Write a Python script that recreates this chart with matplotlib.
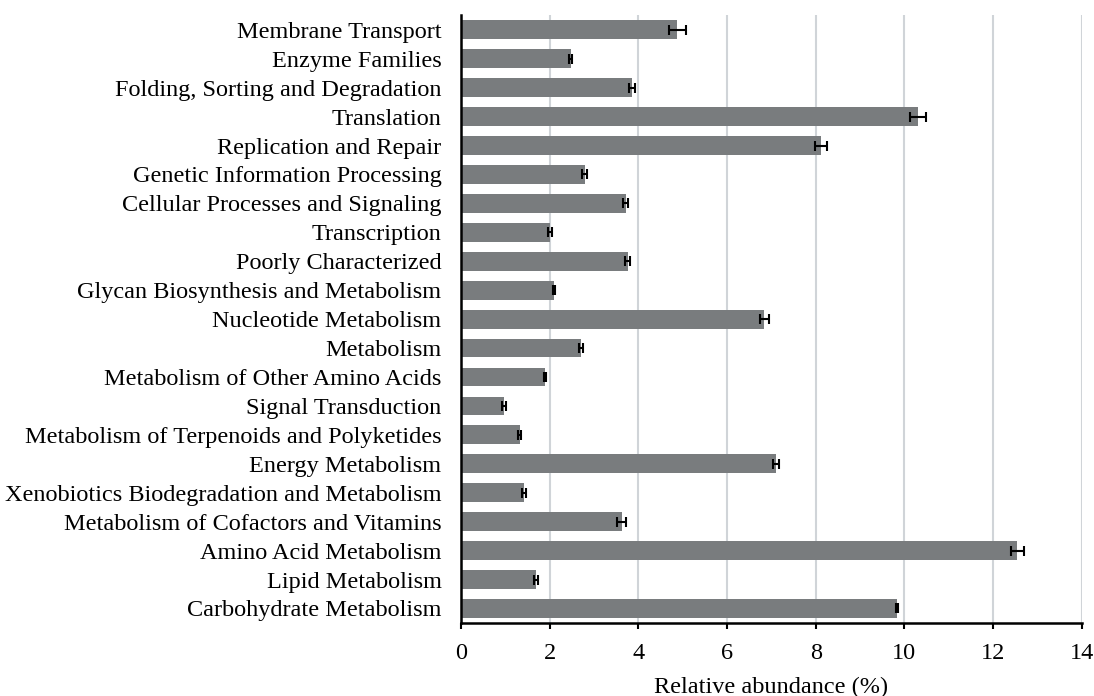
import numpy as np
import matplotlib
matplotlib.use("Agg")
import matplotlib.pyplot as plt

# categories, top to bottom as in the figure
categories = [
    "Membrane Transport",
    "Enzyme Families",
    "Folding, Sorting and Degradation",
    "Translation",
    "Replication and Repair",
    "Genetic Information Processing",
    "Cellular Processes and Signaling",
    "Transcription",
    "Poorly Characterized",
    "Glycan Biosynthesis and Metabolism",
    "Nucleotide Metabolism",
    "Metabolism",
    "Metabolism of Other Amino Acids",
    "Signal Transduction",
    "Metabolism of Terpenoids and Polyketides",
    "Energy Metabolism",
    "Xenobiotics Biodegradation and Metabolism",
    "Metabolism of Cofactors and Vitamins",
    "Amino Acid Metabolism",
    "Lipid Metabolism",
    "Carbohydrate Metabolism",
]
abundance = [4.88, 2.47, 3.86, 10.31, 8.12, 2.79, 3.71, 2.01, 3.76, 2.10, 6.84,
             2.71, 1.89, 0.97, 1.32, 7.10, 1.42, 3.62, 12.55, 1.69, 9.83]
errors = [0.20, 0.03, 0.06, 0.18, 0.13, 0.05, 0.05, 0.05, 0.06, 0.03, 0.10,
          0.05, 0.02, 0.05, 0.03, 0.07, 0.05, 0.10, 0.14, 0.04, 0.03]
xticks = [0, 2, 4, 6, 8, 10, 12, 14]

plt.rcParams['font.family'] = ['Liberation Serif', 'DejaVu Serif']

fig = plt.figure(figsize=(10.94, 6.96), dpi=100)
ax = fig.add_axes([0.4214, 0.105, 0.5674, 0.873])

y = np.arange(len(categories))[::-1]
ax.barh(y, abundance, height=0.65, color='#797c7e', zorder=2,
        xerr=errors, error_kw=dict(ecolor='black', elinewidth=1.5, capsize=3.5, capthick=1.5))

ax.set_yticks(y)
ax.set_yticklabels(categories, fontsize=17.5)
ax.tick_params(axis='y', length=0, pad=14)
ax.set_ylim(-0.5, len(categories) - 0.5)

ax.set_xlim(0, 14)
ax.set_xticks(xticks)
ax.set_xticklabels([str(t) for t in xticks], fontsize=17.5)
ax.tick_params(axis='x', direction='out', length=4.5, width=1.5, pad=10)
ax.set_xlabel('Relative abundance (%)', fontsize=17.5, labelpad=9)

ax.grid(axis='x', color='#d0d4d8', linewidth=1.5, zorder=0)
ax.set_axisbelow(True)
for s in ['top', 'right']:
    ax.spines[s].set_visible(False)
ax.spines['left'].set_linewidth(1.8)
ax.spines['bottom'].set_linewidth(1.8)

plt.savefig('out.png', dpi=100)
plt.close()
